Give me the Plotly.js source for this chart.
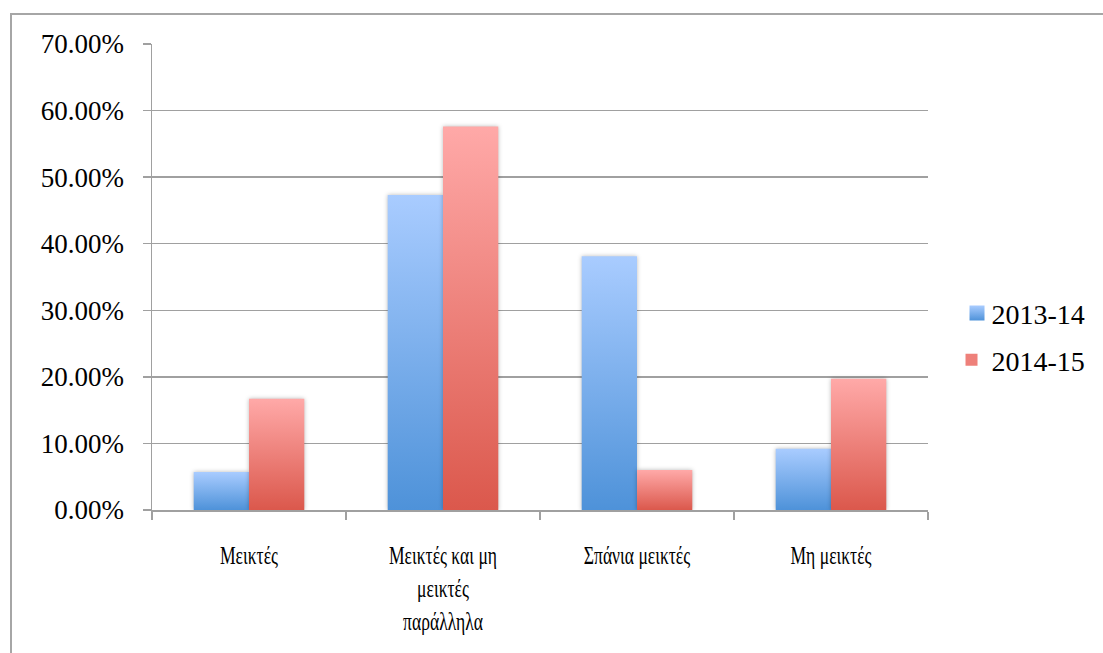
<!DOCTYPE html>
<html>
<head>
<meta charset="utf-8">
<script src="https://cdn.plot.ly/plotly-3.0.1.min.js"></script>
<style>
html,body{margin:0;padding:0;background:#fff;overflow:hidden;}
#frame{position:absolute;left:10px;top:13px;width:2000px;height:2000px;border-left:2px solid #a6a6a6;border-top:2px solid #a6a6a6;pointer-events:none;}
#chart{position:absolute;left:0;top:0;width:1103px;height:653px;}
</style>
</head>
<body>
<div id="frame"></div>
<div id="chart"></div>
<script>
const categories = ["Μεικτές", "Μεικτές και μη<br>μεικτές<br>παράλληλα", "Σπάνια μεικτές", "Μη μεικτές"];
const seriesNames = ["2013-14", "2014-15"];
const values2013 = [0.057, 0.473, 0.381, 0.092];
const values2014 = [0.167, 0.576, 0.060, 0.197];
const yTickValues = [0, 0.1, 0.2, 0.3, 0.4, 0.5, 0.6, 0.7];

const FONT = "'Liberation Serif', Tinos, 'Times New Roman', serif";
const grid = "#a0a0a0";

const traces = [
  {type: "bar", name: seriesNames[0], x: categories, y: values2013,
   marker: {color: "#7fb0ee"}, legend: "legend", hoverinfo: "none"},
  {type: "bar", name: seriesNames[1], x: categories, y: values2014,
   marker: {color: "#ee807a"}, legend: "legend2", hoverinfo: "none"}
];

const layout = {
  width: 1103, height: 653,
  margin: {l: 152, r: 173, t: 43.5, b: 142.7, pad: 0},
  paper_bgcolor: "rgba(0,0,0,0)", plot_bgcolor: "rgba(0,0,0,0)",
  barmode: "group", bargap: 0.43, bargroupgap: 0,
  font: {family: FONT, color: "#000"},
  xaxis: {
    type: "category", tickson: "boundaries", ticks: "outside", ticklen: 8,
    tickcolor: grid, tickwidth: 1.5, showline: true, linecolor: grid, linewidth: 1.5,
    showgrid: false, tickfont: {family: FONT, size: 25.5, color: "#000"},
    ticklabelstandoff: 22, fixedrange: true
  },
  yaxis: {
    range: [0, 0.7], tickvals: yTickValues, tickformat: ".2%",
    ticks: "outside", ticklen: 8, tickcolor: grid, tickwidth: 1.5,
    showline: true, linecolor: grid, linewidth: 1.5,
    showgrid: true, gridcolor: grid, gridwidth: 1.5, zeroline: false,
    tickfont: {family: FONT, size: 27, color: "#000"},
    ticklabelstandoff: 13, fixedrange: true
  },
  legend: {x: 1.0303, xanchor: "left", y: 0.422, yanchor: "middle",
    font: {family: FONT, size: 28, color: "#000"}, bgcolor: "rgba(0,0,0,0)", itemwidth: 30},
  legend2: {x: 1.0303, xanchor: "left", y: 0.322, yanchor: "middle",
    font: {family: FONT, size: 28, color: "#000"}, bgcolor: "rgba(0,0,0,0)", itemwidth: 30},
  showlegend: true
};

Plotly.newPlot("chart", traces, layout, {displayModeBar: false, staticPlot: true}).then(function(gd){
  const svg = gd.querySelector("svg.main-svg");
  const NS = "http://www.w3.org/2000/svg";
  const defs = document.createElementNS(NS, "defs");
  function grad(id, top, bot){
    const g = document.createElementNS(NS, "linearGradient");
    g.setAttribute("id", id);
    g.setAttribute("x1","0"); g.setAttribute("y1","0"); g.setAttribute("x2","0"); g.setAttribute("y2","1");
    [[0, top],[1, bot]].forEach(function(s){
      const st = document.createElementNS(NS, "stop");
      st.setAttribute("offset", s[0]); st.setAttribute("stop-color", s[1]);
      g.appendChild(st);
    });
    defs.appendChild(g);
  }
  grad("gBlue", "#a9ccff", "#4e92d9");
  grad("gRed", "#ffa9a8", "#db584c");
  svg.insertBefore(defs, svg.firstChild);
  const ids = ["gBlue", "gRed"];
  gd.querySelectorAll(".barlayer .trace.bars").forEach(function(tr, i){
    tr.querySelectorAll("path").forEach(function(p){
      p.style.fill = "url(#" + ids[i] + ")";
      p.style.filter = "drop-shadow(0px 0px 2px rgba(0,0,0,0.28))";
    });
  });
  gd.querySelectorAll(".legend").forEach(function(lg){
    const isSecond = (lg.getAttribute("class") || "").indexOf("legend2") >= 0;
    lg.querySelectorAll(".legendpoints path").forEach(function(p){
      p.style.fill = "url(#" + (isSecond ? ids[1] : ids[0]) + ")";
      const old = p.getAttribute("transform") || "";
      p.setAttribute("transform", old + " translate(5.5,0) scale(1.25)");
    });
  });
  gd.querySelectorAll(".xtick text").forEach(function(t){
    const x = parseFloat(t.getAttribute("x")) || 0;
    const y = parseFloat(t.getAttribute("y")) || 0;
    const old = t.getAttribute("transform") || "";
    t.setAttribute("transform", old + " translate(" + x + "," + y + ") scale(0.69,1) translate(" + (-x) + "," + (-y) + ")");
  });
});
</script>
</body>
</html>
